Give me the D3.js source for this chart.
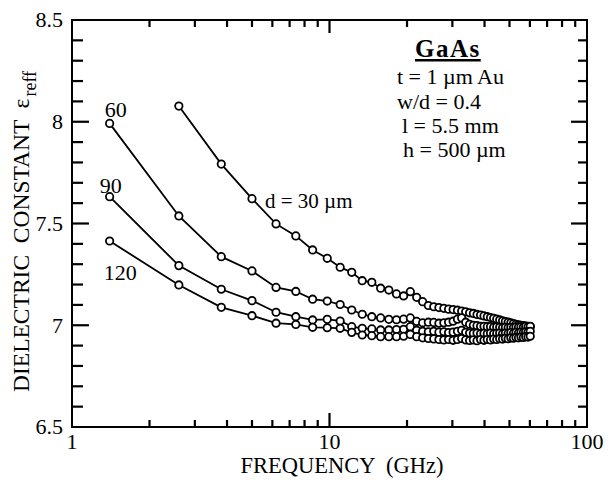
<!DOCTYPE html>
<html>
<head>
<meta charset="utf-8">
<script src="https://cdn.jsdelivr.net/npm/d3@7"></script>
</head>
<body style="margin:0">
<svg id="chart" width="608" height="482"></svg>
<script>
// Frequencies of the measured points (GHz)
const freqGHz = [
  1.4, 2.6, 3.8, 5.0, 6.2, 7.4, 8.6, 9.8, 11.0, 12.2,
  13.4, 14.6, 15.8, 17.0, 18.2, 19.4, 20.6, 21.8, 23.0, 24.2,
  25.4, 26.6, 27.8, 29.0, 30.2, 31.4, 32.6, 33.8, 35.0, 36.2,
  37.4, 38.6, 39.8, 41.0, 42.2, 43.4, 44.6, 45.8, 47.0, 48.2,
  49.4, 50.6, 51.8, 53.0, 54.2, 55.4, 56.6, 57.8, 59.0, 60.2
];

// Effective dielectric constant for each gap d (um); d = 30 starts at 2.6 GHz
const eps30 = [
  null, 8.077, 7.792, 7.622, 7.498, 7.439, 7.370, 7.329, 7.285, 7.260,
  7.219, 7.211, 7.182, 7.173, 7.154, 7.144, 7.165, 7.137, 7.116, 7.097,
  7.091, 7.087, 7.083, 7.079, 7.077, 7.074, 7.070, 7.066, 7.061, 7.058,
  7.053, 7.050, 7.046, 7.042, 7.038, 7.034, 7.030, 7.026, 7.022, 7.018,
  7.015, 7.012, 7.008, 7.005, 7.002, 7.000, 6.998, 6.996, 6.995, 6.993
];
const eps60 = [
  7.992, 7.537, 7.337, 7.267, 7.186, 7.166, 7.128, 7.119, 7.102, 7.075,
  7.054, 7.042, 7.036, 7.029, 7.027, 7.030, 7.036, 7.019, 7.012, 7.015,
  7.014, 7.010, 7.012, 7.015, 7.020, 7.030, 7.036, 7.015, 7.005, 7.000,
  6.998, 6.995, 6.995, 6.993, 6.993, 6.990, 6.992, 6.990, 6.988, 6.990,
  6.988, 6.990, 6.988, 6.992, 6.990, 6.992, 6.990, 6.995, 6.992, 6.995
];
const eps90 = [
  7.632, 7.293, 7.177, 7.121, 7.064, 7.042, 7.026, 7.029, 7.021, 6.993,
  6.985, 6.982, 6.977, 6.977, 6.979, 6.980, 6.993, 6.975, 6.970, 6.968,
  6.970, 6.966, 6.968, 6.964, 6.966, 6.970, 6.975, 6.965, 6.962, 6.960,
  6.962, 6.958, 6.960, 6.958, 6.962, 6.958, 6.960, 6.962, 6.958, 6.962,
  6.960, 6.964, 6.960, 6.965, 6.962, 6.966, 6.964, 6.968, 6.966, 6.970
];
const eps120 = [
  7.414, 7.198, 7.088, 7.047, 7.010, 7.004, 6.990, 6.988, 6.985, 6.965,
  6.952, 6.949, 6.944, 6.944, 6.944, 6.946, 6.955, 6.944, 6.938, 6.935,
  6.933, 6.930, 6.928, 6.930, 6.926, 6.930, 6.935, 6.928, 6.925, 6.928,
  6.924, 6.930, 6.926, 6.930, 6.928, 6.932, 6.930, 6.934, 6.932, 6.936,
  6.934, 6.938, 6.936, 6.940, 6.938, 6.942, 6.940, 6.944, 6.942, 6.946
];

// Tick values and labels
const xMajor = [1, 10, 100];
const xMinor = [2, 3, 4, 5, 6, 7, 8, 9, 20, 30, 40, 50, 60, 70, 80, 90];
const yMajor = [6.5, 7, 7.5, 8, 8.5];
const yMinor = [6.6, 6.7, 6.8, 6.9, 7.1, 7.2, 7.3, 7.4, 7.6, 7.7, 7.8, 7.9, 8.1, 8.2, 8.3, 8.4];

// Curve labels, anchored on a point of their own curve
const curves = [
  { d: 30, values: eps30, label: "d = 30 \u00b5m", at: 3, dx: 13, dy: 9 },
  { d: 60, values: eps60, label: "60", at: 0, dx: -5, dy: -6 },
  { d: 90, values: eps90, label: "90", at: 0, dx: -10, dy: -4 },
  { d: 120, values: eps120, label: "120", at: 0, dx: -6, dy: 39 }
];

const infoLines = ["t = 1 \u00b5m Au", "w/d = 0.4", "l = 5.5 mm", "h = 500 \u00b5m"];

const serif = "'Liberation Serif', 'Times New Roman', serif";

let svg = d3.select("#chart");
let mLeft = 72, mRight = 587, mTop = 20, mBottom = 427;

let x = d3.scaleLog().domain([1, 100]).range([mLeft, mRight]);
let y = d3.scaleLinear().domain([6.5, 8.5]).range([mBottom, mTop]);

// inward ticks on all four sides
function xTicks(vals, y0, len) {
  vals.forEach(v => {
    svg.append("path")
      .attr("d", `M${x(v)},${y0}V${y0 + len}`)
      .attr("stroke", "black")
      .attr("stroke-width", 2.2);
  });
}
function yTicks(vals, x0, len) {
  vals.forEach(v => {
    svg.append("path")
      .attr("d", `M${x0},${y(v)}H${x0 + len}`)
      .attr("stroke", "black")
      .attr("stroke-width", 2.2);
  });
}
xTicks(xMinor, mBottom, -7);
xTicks([10], mBottom, -14);
xTicks(xMinor, mTop, 7);
xTicks([10], mTop, 13);
yTicks(yMinor, mLeft, 11);
yTicks([7, 7.5, 8], mLeft, 17);
yTicks(yMinor, mRight, -9);
yTicks([7, 7.5, 8], mRight, -16);

// frame
svg.append("rect")
  .attr("x", mLeft).attr("y", mTop)
  .attr("width", mRight - mLeft).attr("height", mBottom - mTop)
  .attr("fill", "none").attr("stroke", "black").attr("stroke-width", 2);

// tick labels
svg.append("g").selectAll("text")
  .data(xMajor).enter().append("text")
  .attr("x", d => x(d)).attr("y", 449)
  .attr("text-anchor", "middle")
  .style("font-family", serif)
  .style("font-size", "22px")
  .text(d => d);

svg.append("g").selectAll("text")
  .data(yMajor).enter().append("text")
  .attr("x", 63).attr("y", d => y(d))
  .attr("dy", "0.34em")
  .attr("text-anchor", "end")
  .style("font-family", serif)
  .style("font-size", "22px")
  .text(d => d);

// axis titles
svg.append("text")
  .attr("x", 342).attr("y", 473)
  .attr("text-anchor", "middle")
  .style("font-family", serif)
  .style("font-size", "22.5px")
  .style("white-space", "pre")
  .text("FREQUENCY  (GHz)");

let yt = svg.append("text")
  .attr("transform", "translate(29,392) rotate(-90)")
  .style("font-family", serif)
  .style("font-size", "23.5px")
  .style("white-space", "pre");
yt.append("tspan").text("DIELECTRIC  CONSTANT  \u03b5");
yt.append("tspan").attr("dy", 7).attr("dx", 2).style("font-size", "18px").text("reff");

// lines then markers
let line = d3.line()
  .defined(d => d.v != null)
  .x(d => x(d.f))
  .y(d => y(d.v));

curves.forEach(c => {
  c.points = freqGHz.map((f, i) => ({ f: f, v: c.values[i] }));
  svg.append("path")
    .datum(c.points)
    .attr("fill", "none")
    .attr("stroke", "black")
    .attr("stroke-width", 1.8)
    .attr("d", line);
});

curves.forEach(c => {
  svg.append("g").selectAll("circle")
    .data(c.points.filter(d => d.v != null))
    .enter().append("circle")
    .attr("cx", d => x(d.f))
    .attr("cy", d => y(d.v))
    .attr("r", 3.7)
    .attr("fill", "#fff")
    .attr("stroke", "black")
    .attr("stroke-width", 1.8);
});

// curve labels
curves.forEach(c => {
  let p = c.points[c.at];
  svg.append("text")
    .attr("x", x(p.f) + c.dx)
    .attr("y", y(p.v) + c.dy)
    .style("font-family", serif)
    .style("font-size", c.d === 30 ? "21px" : "22px")
    .text(c.label);
});

// material / geometry note
svg.append("text")
  .attr("x", 415).attr("y", 57)
  .style("font-family", serif)
  .style("font-size", "25px")
  .style("font-weight", "bold")
  .style("letter-spacing", "1.5px")
  .attr("text-decoration", "underline")
  .text("GaAs");

let infoX = [397, 397, 402, 403];
let infoY = [84, 109, 133, 157];
infoLines.forEach((t, i) => {
  svg.append("text")
    .attr("x", infoX[i]).attr("y", infoY[i])
    .style("font-family", serif)
    .style("font-size", "22px")
    .style("white-space", "pre")
    .text(t);
});
</script>
</body>
</html>
